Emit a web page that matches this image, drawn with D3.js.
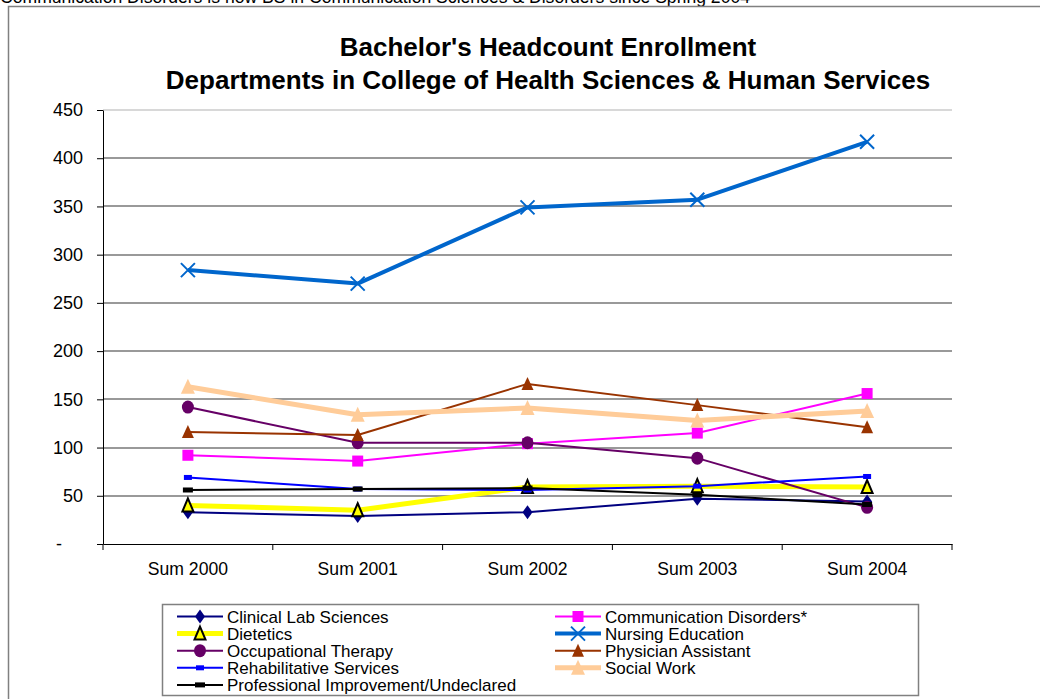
<!DOCTYPE html>
<html>
<head>
<meta charset="utf-8">
<script src="https://cdn.jsdelivr.net/npm/d3@7"></script>
<style>
  body { margin: 0; background: #fff; }
  svg { display: block; font-family: "Liberation Sans", Arial, sans-serif; }
</style>
</head>
<body>
<svg id="chart" width="1040" height="699"></svg>
<script>
// chart values
var categories = ["Sum 2000", "Sum 2001", "Sum 2002", "Sum 2003", "Sum 2004"];
var yTicks = [0, 50, 100, 150, 200, 250, 300, 350, 400, 450];

var clinicalLab = [33, 29, 33, 47, 44];
var commDisorders = [92, 86, 104, 115, 156];
var dietetics = [40, 35, 59, 60, 59];
var nursing = [284, 270, 349, 357, 417];
var occTherapy = [142, 105, 105, 89, 38];
var physAssistant = [116, 113, 166, 144, 121];
var rehab = [69, 57, 56, 60, 70];
var socialWork = [163, 134, 141, 128, 138];
var profImprove = [56, 57, 58, 51, 41];

var series = [
  {name: "Clinical Lab Sciences", values: clinicalLab, color: "#000080", width: 2, marker: "diamond", fill: "#000080"},
  {name: "Communication Disorders*", values: commDisorders, color: "#ff00ff", width: 2, marker: "square", fill: "#ff00ff"},
  {name: "Dietetics", values: dietetics, color: "#ffff00", width: 5, marker: "triOpen", fill: "#ffff00"},
  {name: "Nursing Education", values: nursing, color: "#0066cc", width: 4, marker: "cross", fill: "none"},
  {name: "Occupational Therapy", values: occTherapy, color: "#660066", width: 2, marker: "circle", fill: "#660066"},
  {name: "Physician Assistant", values: physAssistant, color: "#993300", width: 2, marker: "triangle", fill: "#993300"},
  {name: "Rehabilitative Services", values: rehab, color: "#0000ff", width: 2, marker: "dashSmall", fill: "#0000ff"},
  {name: "Social Work", values: socialWork, color: "#ffcc99", width: 5, marker: "triangleBig", fill: "#ffcc99"},
  {name: "Professional Improvement/Undeclared", values: profImprove, color: "#000000", width: 2, marker: "dash", fill: "#000000"}
];

(function() {
  var svg = d3.select("#chart");

  // note clipped at top
  svg.append("text")
    .attr("x", 0).attr("y", 3)
    .style("font-size", "17.6px")
    .text("Communication Disorders is now BS in Communication Sciences & Disorders since Spring 2004");

  // outer frame
  svg.append("rect")
    .attr("x", 8.5).attr("y", 6.5)
    .attr("width", 1100).attr("height", 800)
    .attr("fill", "none").attr("stroke", "#808080").attr("stroke-width", 1.5);

  // title
  var title = svg.append("text")
    .attr("text-anchor", "middle")
    .style("font-size", "26px").style("font-weight", "bold");
  title.append("tspan").attr("x", 548).attr("y", 56).text("Bachelor's Headcount Enrollment");
  title.append("tspan").attr("x", 548).attr("y", 89).text("Departments in College of Health Sciences & Human Services");

  var plotLeft = 103, plotRight = 952, plotTop = 110, plotBottom = 544;

  var x = d3.scaleBand().domain(categories).range([plotLeft, plotRight]);
  var y = d3.scaleLinear().domain([0, 450]).range([plotBottom, plotTop]);
  function cx(i) { return x(categories[i]) + x.bandwidth() / 2; }

  // gridlines
  svg.append("g").selectAll("line")
    .data(yTicks.filter(function(d) { return d > 0; }))
    .enter().append("line")
    .attr("x1", plotLeft).attr("x2", plotRight)
    .attr("y1", function(d) { return Math.round(y(d)); })
    .attr("y2", function(d) { return Math.round(y(d)); })
    .attr("stroke", function(d) { return d === 450 ? "#d8d8d8" : "#999999"; })
    .attr("stroke-width", 2);

  // y axis
  var yAxis = svg.append("g")
    .attr("transform", "translate(" + plotLeft + ",0)")
    .call(d3.axisLeft(y).tickValues(yTicks).tickSizeInner(6).tickSizeOuter(0).tickPadding(14)
      .tickFormat(function(d) { return d === 0 ? "-" : d; }));
  yAxis.selectAll("text").style("font-size", "18px").attr("fill", "#000")
    .style("font-family", "'Liberation Sans', Arial, sans-serif")
    .attr("dx", function(d) { return d === 0 ? -21 : 0; });
  yAxis.selectAll("line, path").attr("stroke", "#000");

  // x axis
  var xAxis = svg.append("g")
    .attr("transform", "translate(0," + plotBottom + ")")
    .call(d3.axisBottom(x).tickSize(0).tickPadding(19));
  xAxis.select(".domain").attr("stroke", "#000");
  xAxis.selectAll("text").style("font-size", "17.6px").attr("fill", "#000")
    .style("font-family", "'Liberation Sans', Arial, sans-serif");
  var bounds = categories.map(function(c) { return x(c); }).concat([plotRight]);
  xAxis.selectAll(".bound").data(bounds).enter().append("line")
    .attr("x1", function(d) { return d; }).attr("x2", function(d) { return d; })
    .attr("y1", 0).attr("y2", 6).attr("stroke", "#000");

  // marker drawing
  function drawMarker(g, type, s) {
    if (type === "diamond") {
      g.append("path").attr("d", "M0,-7L5,0L0,7L-5,0Z").attr("fill", s.fill);
    } else if (type === "square") {
      g.append("rect").attr("x", -5.5).attr("y", -5.5).attr("width", 11).attr("height", 11).attr("fill", s.fill);
    } else if (type === "triOpen") {
      g.append("path").attr("d", "M0,-7L5.5,6L-5.5,6Z").attr("fill", s.fill)
        .attr("stroke", "#000").attr("stroke-width", 2);
    } else if (type === "cross") {
      g.append("path").attr("d", "M-7,-7L7,7M-7,7L7,-7").attr("stroke", s.color).attr("stroke-width", 2);
    } else if (type === "circle") {
      g.append("ellipse").attr("rx", 6).attr("ry", 6.5).attr("fill", s.fill);
    } else if (type === "triangle") {
      g.append("path").attr("d", "M0,-7L6,6L-6,6Z").attr("fill", s.fill);
    } else if (type === "triangleBig") {
      g.append("path").attr("d", "M0,-8L7,7L-7,7Z").attr("fill", s.fill);
    } else if (type === "dashSmall") {
      g.append("rect").attr("x", -4).attr("y", -2.5).attr("width", 8).attr("height", 5).attr("fill", s.fill);
    } else if (type === "dash") {
      g.append("rect").attr("x", -5).attr("y", -2.5).attr("width", 10).attr("height", 5).attr("fill", s.fill);
    }
  }

  var line = d3.line()
    .x(function(d, i) { return cx(i); })
    .y(function(d) { return y(d); });

  var plot = svg.append("g");
  series.forEach(function(s) {
    var g = plot.append("g");
    g.append("path")
      .attr("d", line(s.values))
      .attr("fill", "none")
      .attr("stroke", s.color)
      .attr("stroke-width", s.width)
      .attr("stroke-linejoin", "round");
    s.values.forEach(function(v, i) {
      var m = g.append("g").attr("transform", "translate(" + cx(i) + "," + y(v) + ")");
      drawMarker(m, s.marker, s);
    });
  });

  // legend
  var legend = svg.append("g");
  legend.append("rect")
    .attr("x", 162.5).attr("y", 604.5).attr("width", 756).attr("height", 91)
    .attr("fill", "#fff").attr("stroke", "#808080").attr("stroke-width", 1.5);

  series.forEach(function(s, i) {
    var col = i < 8 ? i % 2 : 0;
    var row = Math.floor(i / 2);
    var lx = col === 0 ? 177 : 555;
    var ly = 616.5 + row * 17.1;
    var item = legend.append("g");
    item.append("line")
      .attr("x1", lx).attr("x2", lx + 46)
      .attr("y1", ly).attr("y2", ly)
      .attr("stroke", s.color).attr("stroke-width", s.width);
    var m = item.append("g").attr("transform", "translate(" + (lx + 23) + "," + ly + ")");
    drawMarker(m, s.marker, s);
    item.append("text")
      .attr("x", lx + 50).attr("y", ly + 6)
      .style("font-size", "17px")
      .text(s.name);
  });
})();
</script>
</body>
</html>
